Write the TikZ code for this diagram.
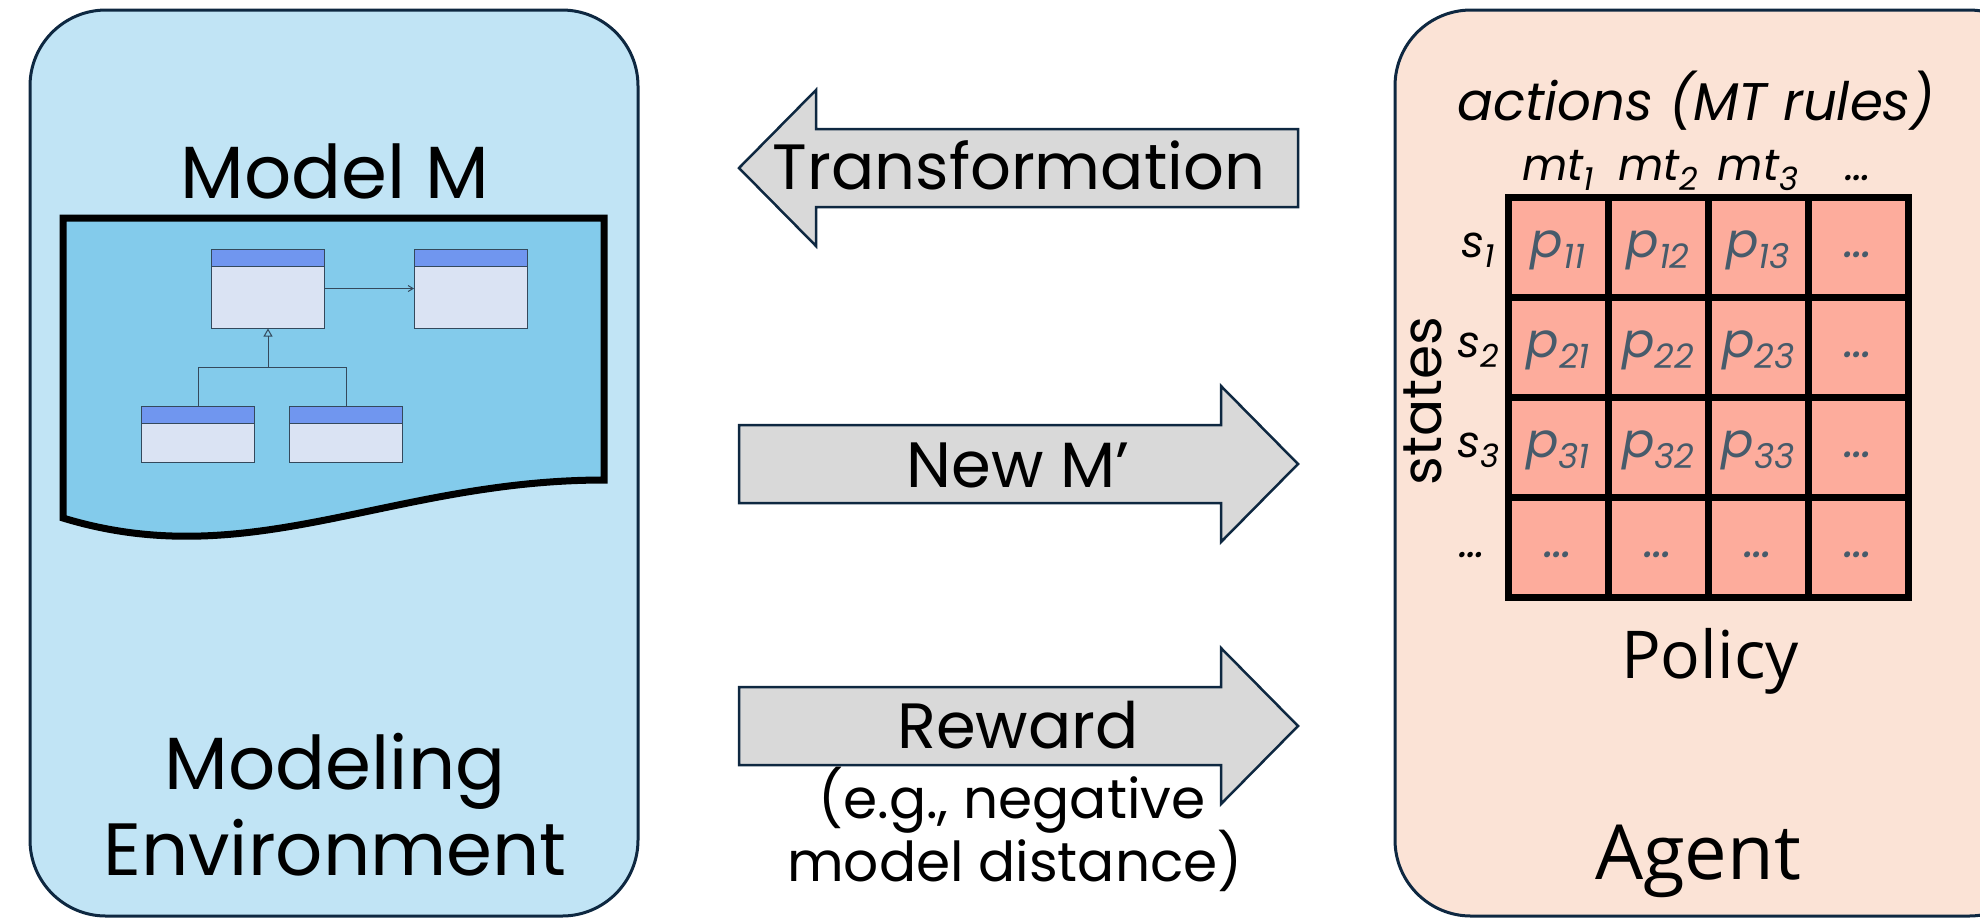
\documentclass[tikz,border=0pt]{standalone}
\usepackage{fontspec}
\setmainfont{Poppins}
\newfontfamily\labelfont{Open Sans}
\usetikzlibrary{arrows.meta}

\definecolor{envblue}{HTML}{C1E4F5}
\definecolor{docblue}{HTML}{83CBEB}
\definecolor{navy}{HTML}{0E2841}
\definecolor{agentpeach}{HTML}{FBE3D6}
\definecolor{cellsalmon}{HTML}{FDAC9C}
\definecolor{arrowgrey}{HTML}{D9D9D9}
\definecolor{classhead}{HTML}{7096EF}
\definecolor{classbody}{HTML}{DAE3F3}
\definecolor{umlline}{HTML}{34495C}
\definecolor{probgrey}{HTML}{475B6B}

\newcommand{\fsize}[1]{\fontsize{#1pt}{#1pt}\selectfont}
% p_ij inside the policy table, mt_j and s_i on its borders
\newcommand{\pij}[1]{\textit{p\raisebox{-5.5pt}{\fsize{17}#1}}}
\newcommand{\mtj}[1]{\textit{mt\raisebox{-5pt}{\fsize{16}#1}}}
\newcommand{\si}[1]{\textit{s\raisebox{-5pt}{\fsize{16}#1}}}

\tikzset{
    bigbox/.style={draw=navy, line width=1.5pt, rounded corners=38pt},
    blockarrow/.style={draw=navy, line width=1.25pt, fill=arrowgrey, line join=miter},
    umlclass/.style={draw=umlline, line width=0.5pt, fill=classbody, inner sep=0pt,
        minimum width=56.5pt, minimum height=#1,
        path picture={
            \fill[classhead] (path picture bounding box.north west)
                rectangle ([yshift=-8.5pt]path picture bounding box.north east);
            \draw[umlline, line width=0.5pt] ([yshift=-8.5pt]path picture bounding box.north west)
                -- ([yshift=-8.5pt]path picture bounding box.north east);
        }},
    umledge/.style={draw=umlline, line width=0.5pt},
    cell/.style={draw=black, line width=3.5pt, fill=cellsalmon, minimum size=50pt, inner sep=0pt},
    prob/.style={anchor=base, text=probgrey, font=\fsize{24}\itshape},
    border/.style={anchor=base, font=\fsize{22}\itshape},
    big/.style={anchor=base, font=\fsize{37}},
    msg/.style={anchor=base, font=\fsize{32}},
    note/.style={anchor=base, font=\fsize{27.5}},
}

\begin{document}
\begin{tikzpicture}[x=0.5pt, y=-0.5pt]
    \useasboundingbox (0,0) rectangle (1980,918);
    \clip (0,0) rectangle (1980,918);

    % modeling environment
    \draw[bigbox, fill=envblue] (30,10) rectangle (638,916);
    \node[big] (modelm) at (335,198) {Model M};
    \draw[line width=3.5pt, fill=docblue] (63,218) -- (604,218) -- (604,480)
        .. controls (390,480) and (250,575) .. (63,518) -- cycle;

    \node[umlclass=39.5pt] (c1) at (268,288.5) {};
    \node[umlclass=39.5pt] (c2) at (471,288.5) {};
    \node[umlclass=28pt] (c3) at (198,434.3) {};
    \node[umlclass=28pt] (c4) at (346,434.3) {};
    \coordinate (fork) at (268,367);
    \draw[umledge, -{Straight Barb[length=2.5pt,width=3pt]}] (c1.east) -- (c2.west);
    \draw[umledge] (c3.north) |- (fork) -| (c4.north);
    \draw[umledge, -{Triangle[open,length=4pt,width=4.5pt]}] (fork) -- (c1.south);

    \node[big] (modeling) at (335,789) {Modeling};
    \node[big] (environment) at (335,875) {Environment};

    % the three messages
    \draw[blockarrow] (739,168) -- (816,90) -- (816,129) -- (1298,129)
        -- (1298,207) -- (816,207) -- (816,246) -- cycle;
    \node[msg] (transformation) at (1019,189) {Transformation};

    \draw[blockarrow] (739,425) -- (1221,425) -- (1221,386) -- (1298,464)
        -- (1221,542) -- (1221,503) -- (739,503) -- cycle;
    \node[msg] (newm) at (1018,487) {New M’};

    \draw[blockarrow] (739,687) -- (1221,687) -- (1221,648) -- (1298,726)
        -- (1221,804) -- (1221,765) -- (739,765) -- cycle;
    \node[msg] (reward) at (1018,748) {Reward};
    \node[note] (eg) at (1012,818) {(e.g., negative};
    \node[note] (dist) at (1015,881) {model distance)};

    % agent with its policy table
    \draw[bigbox, fill=agentpeach] (1395,10) rectangle (2045,916);
    \node[anchor=base, font=\fsize{26.5}\itshape] (actions) at (1696,120) {actions (MT rules)};
    \node[anchor=center, rotate=90, font=\fsize{27.5}] (states) at (1423,401) {states};

    \foreach \r in {1,...,4}
        \foreach \c in {1,...,4}
            \node[cell] (cell\r\c) at ({1458+100*\c},{147+100*\r}) {};

    \foreach \r in {1,2,3}
        \foreach \c in {1,2,3}
            \node[prob] (p\r\c) at ([yshift=-5pt]cell\r\c.center) {\pij{\r\c}};
    \foreach \r in {1,2,3}
        \node[prob] (pdots\r) at ([yshift=-5pt]cell\r4.center) {…};
    \foreach \c in {1,...,4}
        \node[prob] (qdots\c) at ([yshift=-5pt]cell4\c.center) {…};

    \foreach \c in {1,2,3}
        \node[border] (mt\c) at ({1458+100*\c},180) {\mtj{\c}};
    \node[border] (mtdots) at (1858,180) {…};
    \foreach \r in {1,2,3}
        \node[border] (s\r) at ({1478},{157+100*\r}) {\si{\r}};
    \node[border] (sdots) at (1472,557) {…};

    \node[anchor=base, font=\labelfont\fsize{33}] (policy) at (1710,678) {Policy};
    \node[anchor=base, font=\labelfont\fsize{38}] (agent) at (1698,879) {Agent};
\end{tikzpicture}
\end{document}
